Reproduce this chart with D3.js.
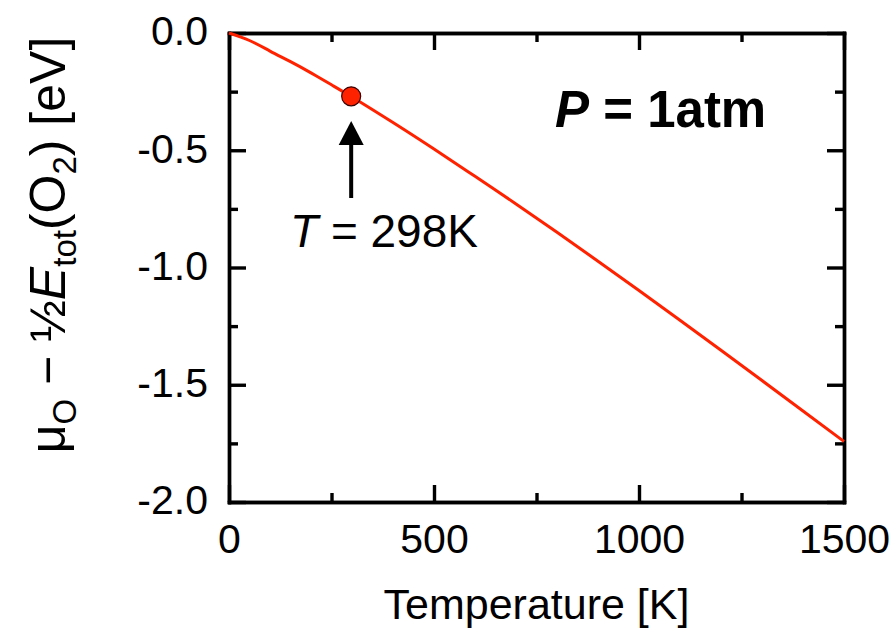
<!DOCTYPE html>
<html>
<head>
<meta charset="utf-8">
<script src="https://cdn.jsdelivr.net/npm/d3@7"></script>
<style>
  html, body { margin: 0; padding: 0; background: #fff; }
  svg { display: block; font-family: "Liberation Sans", Arial, sans-serif; }
</style>
</head>
<body>
<svg id="chart" width="894" height="641"></svg>
<script>
// ---- data ----
const temperatures = [0, 50, 100, 150, 200, 250, 300, 400, 500, 600, 700, 800, 900, 1000, 1100, 1200, 1300, 1400, 1500];
const muValues = [0, -0.032, -0.077, -0.122, -0.170, -0.221, -0.273, -0.382, -0.495, -0.611, -0.729, -0.850, -0.973, -1.098, -1.225, -1.353, -1.482, -1.612, -1.742];
const markerPoint = { T: 298, mu: -0.27 };
const xMajorTicks = [0, 500, 1000, 1500];
const xMinorTicks = [250, 750, 1250];
const yMajorTicks = [0, -0.5, -1.0, -1.5, -2.0];
const yMinorTicks = [-0.25, -0.75, -1.25, -1.75];

(function () {
// ---- layout ----
const pLeft = 229, pRight = 844, pTop = 33, pBottom = 502;
const svg = d3.select("#chart");
const x = d3.scaleLinear().domain([0, 1500]).range([pLeft, pRight]);
const y = d3.scaleLinear().domain([-2, 0]).range([pBottom, pTop]);

const MAJ = 17, MIN = 9, tickFont = 41, AW = 3.4;

function styleAxis(g) {
  g.selectAll("path.domain").attr("stroke", "#000").attr("stroke-width", AW).attr("stroke-linecap", "square");
  g.selectAll(".tick line").attr("stroke", "#000").attr("stroke-width", AW);
  g.selectAll(".tick text").attr("font-size", tickFont).attr("fill", "#000")
    .attr("font-family", '"Liberation Sans", Arial, sans-serif');
}
const fmtY = d => (d < 0 ? "-" : "") + Math.abs(d).toFixed(1);

// bottom
svg.append("g").attr("transform", `translate(0,${pBottom})`)
  .call(d3.axisBottom(x).tickValues(xMajorTicks).tickSize(-MAJ).tickSizeOuter(0).tickPadding(22).tickFormat(d3.format("d")))
  .call(styleAxis);
svg.append("g").attr("transform", `translate(0,${pBottom})`)
  .call(d3.axisBottom(x).tickValues(xMinorTicks).tickSize(-MIN).tickSizeOuter(0).tickFormat(""))
  .call(styleAxis);
// top
svg.append("g").attr("transform", `translate(0,${pTop})`)
  .call(d3.axisTop(x).tickValues(xMajorTicks).tickSize(-MAJ).tickSizeOuter(0).tickFormat(""))
  .call(styleAxis);
svg.append("g").attr("transform", `translate(0,${pTop})`)
  .call(d3.axisTop(x).tickValues(xMinorTicks).tickSize(-MIN).tickSizeOuter(0).tickFormat(""))
  .call(styleAxis);
// left
svg.append("g").attr("transform", `translate(${pLeft},0)`)
  .call(d3.axisLeft(y).tickValues(yMajorTicks).tickSize(-MAJ).tickSizeOuter(0).tickPadding(21).tickFormat(fmtY))
  .call(styleAxis)
  .call(g => g.selectAll(".tick text").attr("dy", "0.29em"));
svg.append("g").attr("transform", `translate(${pLeft},0)`)
  .call(d3.axisLeft(y).tickValues(yMinorTicks).tickSize(-MIN).tickSizeOuter(0).tickFormat(""))
  .call(styleAxis);
// right
svg.append("g").attr("transform", `translate(${pRight},0)`)
  .call(d3.axisRight(y).tickValues(yMajorTicks).tickSize(-MAJ).tickSizeOuter(0).tickFormat(""))
  .call(styleAxis);
svg.append("g").attr("transform", `translate(${pRight},0)`)
  .call(d3.axisRight(y).tickValues(yMinorTicks).tickSize(-MIN).tickSizeOuter(0).tickFormat(""))
  .call(styleAxis);

// curve
const data = temperatures.map((t, i) => ({ T: t, mu: muValues[i] }));
const line = d3.line().x(d => x(d.T)).y(d => y(d.mu)).curve(d3.curveNatural);
svg.append("path").datum(data)
  .attr("d", line).attr("fill", "none").attr("stroke", "#ff2200").attr("stroke-width", 3);

// marker
svg.append("circle").attr("cx", x(markerPoint.T)).attr("cy", y(markerPoint.mu)).attr("r", 9.5)
  .attr("fill", "#ff2200").attr("stroke", "#3a0000").attr("stroke-width", 1.2);

// arrow
const ax = x(markerPoint.T);
svg.append("line").attr("x1", ax).attr("x2", ax).attr("y1", 198).attr("y2", 140)
  .attr("stroke", "#000").attr("stroke-width", 4);
svg.append("path").attr("d", `M${ax},121 L${ax - 12.5},145 L${ax + 12.5},145 Z`).attr("fill", "#000");

// annotation T = 298K
const tLabel = svg.append("text").attr("x", 290).attr("y", 247).attr("font-size", 46).attr("fill", "#000");
tLabel.append("tspan").attr("font-style", "italic").text("T");
tLabel.append("tspan").text(" = 298K");

// P = 1atm
const pLabel = svg.append("text").attr("x", 555).attr("y", 127).attr("font-size", 51)
  .attr("font-weight", "bold").attr("fill", "#000");
pLabel.append("tspan").attr("font-style", "italic").text("P");
pLabel.append("tspan").text(" = 1atm");

// x title
svg.append("text").attr("x", (pLeft + pRight) / 2).attr("y", 619).attr("text-anchor", "middle")
  .attr("font-size", 43).attr("fill", "#000").text("Temperature [K]");

// y title
const fs = 50, sub = 33, sh = 11;
const yt = svg.append("text").attr("transform", "translate(65,245) rotate(-90)")
  .attr("text-anchor", "middle").attr("font-size", fs).attr("fill", "#000");
yt.append("tspan").text("μ");
yt.append("tspan").attr("font-size", sub).attr("dy", sh).text("O");
yt.append("tspan").attr("dy", -sh).text(" − ½");
yt.append("tspan").attr("font-style", "italic").text("E");
yt.append("tspan").attr("font-size", sub).attr("dy", sh).text("tot");
yt.append("tspan").attr("dy", -sh).text("(O");
yt.append("tspan").attr("font-size", sub).attr("dy", sh).text("2");
yt.append("tspan").attr("dy", -sh).text(") [eV]");
})();
</script>
</body>
</html>
